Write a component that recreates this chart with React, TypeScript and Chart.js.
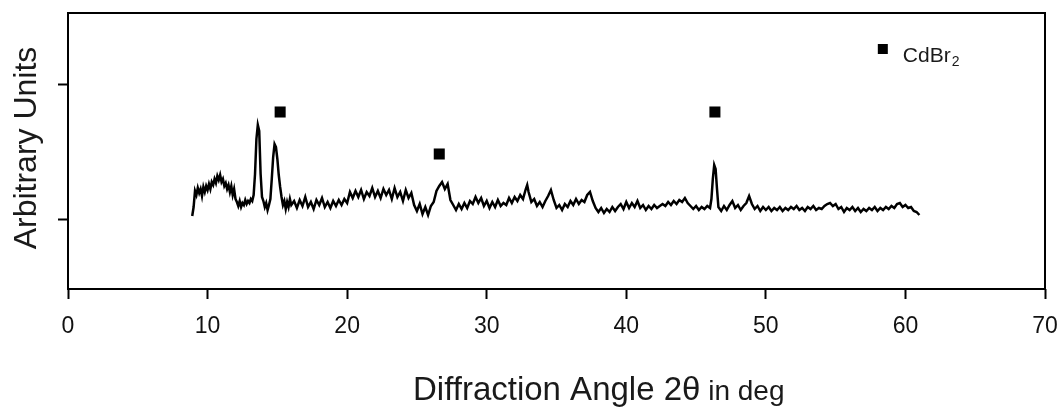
import React, { useEffect, useRef } from "react";
import { Chart, registerables } from "chart.js";

Chart.register(...registerables);

// 2θ positions (deg) of the diffraction pattern
const twoTheta: number[] = [
  8.9, 9.0, 9.1, 9.2, 9.3, 9.4, 9.5, 9.6, 9.7, 9.8, 9.9, 10.0, 10.1, 10.2, 10.3, 10.4, 10.5, 10.6, 10.7, 10.8, 10.9,
  11.0, 11.1, 11.2, 11.3, 11.4, 11.5, 11.6, 11.7, 11.8, 11.9, 12.0, 12.1, 12.2, 12.3, 12.4, 12.5, 12.6, 12.7, 12.8, 12.9,
  13.0, 13.1, 13.2, 13.3, 13.4, 13.5, 13.6, 13.7, 13.8, 13.9, 14.0, 14.1, 14.2, 14.3, 14.4, 14.5, 14.6, 14.7, 14.8, 14.9,
  15.0, 15.1, 15.2, 15.3, 15.4, 15.5, 15.6, 15.7, 15.8, 15.9, 16.0, 16.2, 16.4, 16.6, 16.8, 17.0, 17.2, 17.4, 17.6, 17.8,
  18.0, 18.2, 18.4, 18.6, 18.8, 19.0, 19.2, 19.4, 19.6, 19.8, 20.0, 20.2, 20.4, 20.6, 20.8, 21.0, 21.2, 21.4, 21.6, 21.8,
  22.0, 22.2, 22.4, 22.6, 22.8, 23.0, 23.2, 23.4, 23.6, 23.8, 24.0, 24.2, 24.4, 24.6, 24.8, 25.0, 25.2, 25.4, 25.6, 25.8,
  26.0, 26.2, 26.4, 26.6, 26.8, 27.0, 27.2, 27.4, 27.6, 27.8, 28.0, 28.2, 28.4, 28.6, 28.8, 29.0, 29.2, 29.4, 29.6, 29.8,
  30.0, 30.2, 30.4, 30.6, 30.8, 31.0, 31.2, 31.4, 31.6, 31.8, 32.0, 32.2, 32.4, 32.6, 32.8, 32.9, 33.0, 33.2, 33.4, 33.6,
  33.8, 34.0, 34.2, 34.4, 34.6, 34.8, 35.0, 35.2, 35.4, 35.6, 35.8, 36.0, 36.2, 36.4, 36.6, 36.8, 37.0, 37.2, 37.4, 37.6,
  37.8, 38.0, 38.2, 38.4, 38.6, 38.8, 39.0, 39.2, 39.4, 39.6, 39.8, 40.0, 40.2, 40.4, 40.6, 40.8, 41.0, 41.2, 41.4, 41.6,
  41.8, 42.0, 42.2, 42.4, 42.6, 42.8, 43.0, 43.2, 43.4, 43.6, 43.8, 44.0, 44.2, 44.4, 44.6, 44.8, 45.0, 45.2, 45.4, 45.6,
  45.8, 46.0, 46.1, 46.2, 46.3, 46.4, 46.5, 46.6, 46.8, 47.0, 47.2, 47.4, 47.6, 47.8, 48.0, 48.2, 48.4, 48.6, 48.8, 49.0,
  49.2, 49.4, 49.6, 49.8, 50.0, 50.2, 50.4, 50.6, 50.8, 51.0, 51.2, 51.4, 51.6, 51.8, 52.0, 52.2, 52.4, 52.6, 52.8, 53.0,
  53.2, 53.4, 53.6, 53.8, 54.0, 54.2, 54.4, 54.6, 54.8, 55.0, 55.2, 55.4, 55.6, 55.8, 56.0, 56.2, 56.4, 56.6, 56.8, 57.0,
  57.2, 57.4, 57.6, 57.8, 58.0, 58.2, 58.4, 58.6, 58.8, 59.0, 59.2, 59.4, 59.6, 59.8, 60.0, 60.2, 60.4, 60.6, 60.8, 61.0,
];

// measured intensity (arbitrary units)
const intensity: number[] = [
  3, 12, 28, 24, 31, 26, 30, 23, 32, 27, 33, 29, 35, 30, 37, 34, 40, 36, 43, 39, 44,
  37, 40, 33, 36, 30, 34, 27, 33, 24, 30, 20, 17, 13, 18, 12, 16, 14, 19, 15, 18,
  16, 20, 18, 24, 45, 80, 94, 88, 45, 22, 18, 12, 16, 9, 14, 20, 40, 62, 75, 72,
  60, 44, 32, 22, 14, 18, 10, 17, 12, 20, 14, 18, 11, 19, 13, 22, 12, 17, 10, 19,
  14, 21, 12, 17, 11, 18, 13, 19, 14, 20, 16, 27, 21, 28, 22, 29, 20, 27, 23, 31,
  22, 28, 21, 30, 24, 29, 20, 31, 22, 27, 18, 29, 21, 26, 14, 8, 15, 5, 12, 4,
  13, 17, 28, 33, 37, 30, 35, 19, 14, 9, 15, 10, 16, 11, 18, 15, 22, 16, 21, 13,
  18, 11, 17, 12, 19, 13, 16, 14, 21, 16, 22, 18, 24, 20, 30, 34, 27, 17, 20, 13,
  17, 12, 18, 23, 29, 19, 11, 14, 9, 15, 12, 18, 14, 20, 15, 19, 17, 24, 27, 18,
  11, 7, 11, 6, 10, 7, 12, 8, 12, 15, 10, 17, 11, 16, 12, 18, 11, 14, 9, 13,
  10, 14, 11, 13, 15, 13, 17, 14, 18, 15, 19, 17, 21, 16, 13, 10, 13, 9, 12, 10,
  13, 11, 20, 40, 54, 50, 30, 12, 8, 13, 9, 14, 18, 11, 14, 9, 13, 16, 23, 15,
  10, 13, 8, 12, 9, 12, 8, 11, 9, 12, 8, 11, 9, 12, 10, 13, 9, 11, 8, 12,
  10, 13, 9, 11, 10, 13, 15, 16, 13, 15, 10, 12, 7, 11, 9, 12, 8, 11, 7, 10,
  8, 11, 9, 12, 8, 11, 9, 12, 10, 13, 11, 15, 16, 12, 14, 11, 12, 8, 7, 4,
];

// CdBr2 reflection markers
const markerAngles: number[] = [15.2, 26.6, 46.35];
const markerLevels: number[] = [107, 65, 107];

// axis ticks
const xTicks: number[] = [0, 10, 20, 30, 40, 50, 60, 70];
const yTicks: number[] = [0, 135];

const legendLabel = "CdBr";
const legendSub = "2";
const xTitleMain = "Diffraction Angle 2\u03B8";
const xTitleTail = " in deg";
const yTitle = "Arbitrary Units";

const FONT = "'Liberation Sans', Arial, sans-serif";

export default function App() {
  const ref = useRef<HTMLCanvasElement | null>(null);

  useEffect(() => {
    document.body.style.margin = "0";
    const canvas = ref.current;
    if (!canvas) return;

    const framePlugin = {
      id: "frameAndTitles",
      afterDraw(chart: any) {
        const { ctx, chartArea } = chart;
        ctx.save();
        // frame
        ctx.strokeStyle = "#000";
        ctx.lineWidth = 2;
        ctx.strokeRect(chartArea.left, chartArea.top, chartArea.right - chartArea.left, chartArea.bottom - chartArea.top);

        // y title
        ctx.fillStyle = "#1a1a1a";
        ctx.font = `32px ${FONT}`;
        ctx.textAlign = "center";
        ctx.textBaseline = "alphabetic";
        ctx.save();
        ctx.translate(36, (chartArea.top + chartArea.bottom) / 2 - 3);
        ctx.rotate(-Math.PI / 2);
        ctx.fillText(yTitle, 0, 0);
        ctx.restore();

        // x title
        ctx.textAlign = "left";
        ctx.font = `33px ${FONT}`;
        const startX = 413;
        const baseY = 400;
        ctx.fillText(xTitleMain, startX, baseY);
        const w1 = ctx.measureText(xTitleMain).width;
        ctx.font = `28px ${FONT}`;
        ctx.fillText(xTitleTail, startX + w1, baseY);

        // legend
        const lx = chartArea.left + (chartArea.right - chartArea.left) * 0.834;
        const ly = chartArea.top + 36;
        ctx.fillStyle = "#000";
        ctx.fillRect(lx - 5, ly - 5, 10, 10);
        ctx.fillStyle = "#1a1a1a";
        ctx.font = `21px ${FONT}`;
        ctx.fillText(legendLabel, lx + 20, ly + 13);
        const w2 = ctx.measureText(legendLabel).width;
        ctx.font = `14px ${FONT}`;
        ctx.fillText(legendSub, lx + 21 + w2, ly + 17);
        ctx.restore();
      },
    };

    const chart = new Chart(canvas, {
      type: "line",
      data: {
        datasets: [
          {
            label: "pattern",
            data: twoTheta.map((x, i) => ({ x, y: intensity[i] })),
            borderColor: "#000",
            borderWidth: 2.5,
            pointRadius: 0,
            tension: 0,
            fill: false,
          },
          {
            label: "CdBr2",
            data: markerAngles.map((x, i) => ({ x, y: markerLevels[i] })),
            showLine: false,
            pointStyle: "rect",
            pointRadius: 7.8,
            pointBorderWidth: 0,
            pointBackgroundColor: "#000",
            borderColor: "#000",
            backgroundColor: "#000",
          },
        ],
      },
      options: {
        responsive: false,
        animation: false,
        events: [],
        layout: { padding: { top: 13, right: 18, left: 0, bottom: 0 } },
        plugins: {
          legend: { display: false },
          tooltip: { enabled: false },
          title: { display: false },
        },
        scales: {
          x: {
            type: "linear",
            min: 0,
            max: 70,
            afterBuildTicks: (scale: any) => {
              scale.ticks = xTicks.map((v) => ({ value: v }));
            },
            afterFit: (scale: any) => {
              scale.height = 119;
              scale.paddingLeft = 0;
              scale.paddingRight = 0;
            },
            border: { display: false },
            grid: {
              drawOnChartArea: false,
              drawTicks: true,
              tickLength: 10,
              tickColor: "#000",
              tickWidth: 2,
            },
            ticks: {
              padding: 14,
              color: "#111",
              font: { family: FONT, size: 23 },
              maxRotation: 0,
            },
          },
          y: {
            type: "linear",
            min: -70,
            max: 206,
            afterBuildTicks: (scale: any) => {
              scale.ticks = yTicks.map((v) => ({ value: v }));
            },
            afterFit: (scale: any) => {
              scale.width = 68;
              scale.paddingTop = 0;
              scale.paddingBottom = 0;
            },
            border: { display: false },
            grid: {
              drawOnChartArea: false,
              drawTicks: true,
              tickLength: 10,
              tickColor: "#000",
              tickWidth: 2,
            },
            ticks: { display: false },
          },
        },
      },
      plugins: [framePlugin],
    });

    return () => chart.destroy();
  }, []);

  return (
    <div style={{ position: "fixed", left: 0, top: 0, width: 1063, height: 408, background: "#fff" }}>
      <canvas ref={ref} width={1063} height={408} style={{ display: "block" }} />
    </div>
  );
}
